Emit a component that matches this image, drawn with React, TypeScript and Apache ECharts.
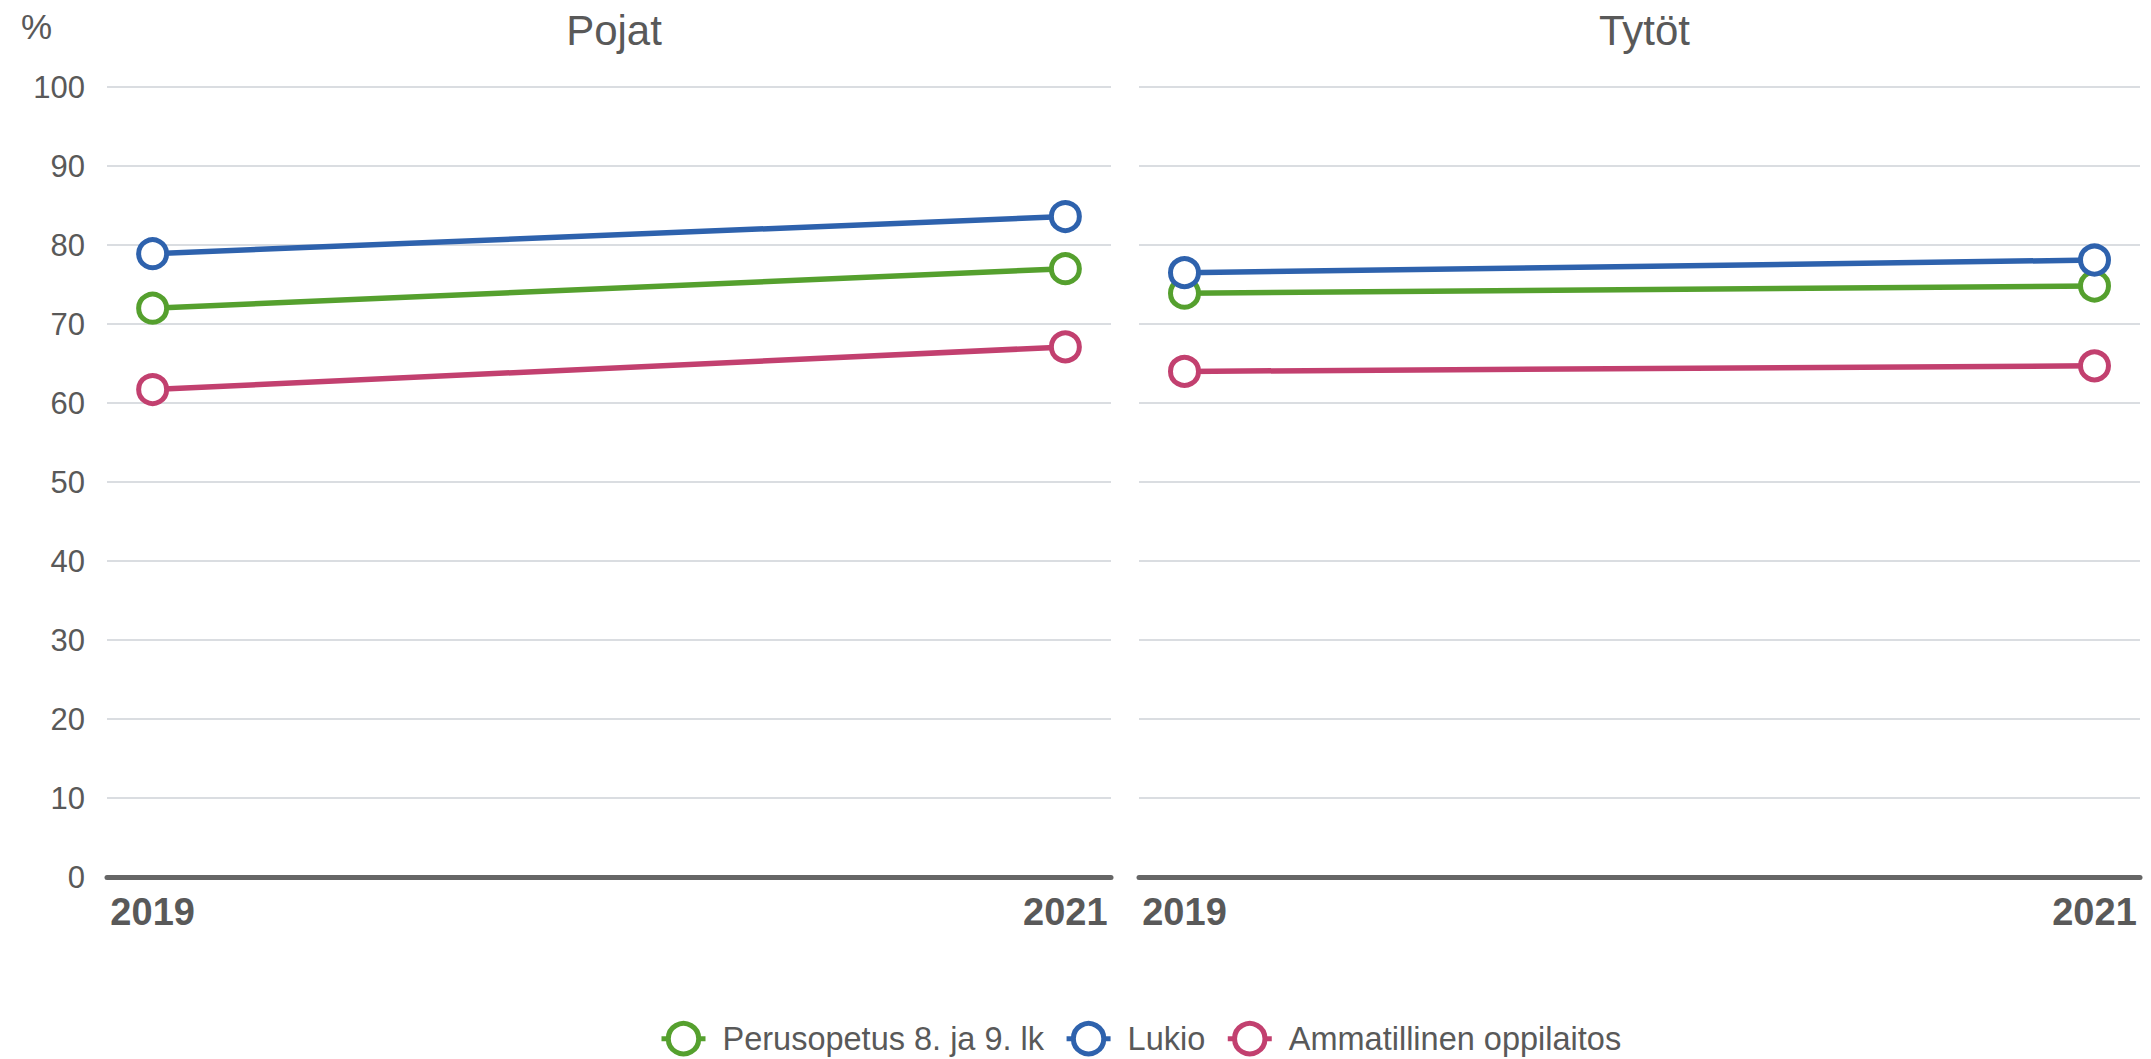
import React, { useEffect, useRef } from "react";
import * as echarts from "echarts";

const years = [2019, 2021];
const seriesNames = ["Perusopetus 8. ja 9. lk", "Lukio", "Ammatillinen oppilaitos"];
const seriesColors = ["#55a02e", "#2e62ad", "#c2406f"];
const panelTitles = ["Pojat", "Tytöt"];
// Pojat
const pojatPerusopetus = [72.0, 77.0];
const pojatLukio = [78.9, 83.6];
const pojatAmmatillinen = [61.7, 67.1];
// Tytöt
const tytotPerusopetus = [73.9, 74.8];
const tytotLukio = [76.5, 78.1];
const tytotAmmatillinen = [64.0, 64.7];
const yTicks = [0, 10, 20, 30, 40, 50, 60, 70, 80, 90, 100];

const FONT = "'Liberation Sans', Arial, sans-serif";
const TEXT = "#595959";

export default function App() {
  const ref = useRef<HTMLDivElement>(null);
  useEffect(() => {
    document.body.style.margin = "0";
    const chart = echarts.init(ref.current!, null, { renderer: "svg" });
    const panels = [
      [pojatPerusopetus, pojatLukio, pojatAmmatillinen],
      [tytotPerusopetus, tytotLukio, tytotAmmatillinen],
    ];
    const grids = [
      { left: 107, top: 87, width: 1004, height: 790 },
      { left: 1139, top: 87, width: 1001, height: 790 },
    ];
    const xAxes = grids.map((_, i) => ({
      type: "value",
      gridIndex: i,
      min: 2018.9,
      max: 2021.1,
      splitLine: { show: false },
      axisTick: { show: false },
      axisLine: { show: true, onZero: false, lineStyle: { color: "#666666", width: 5 } },
      axisLabel: {
        customValues: years,
        formatter: (v: number) => String(v),
        fontFamily: FONT,
        fontSize: 38,
        fontWeight: "bold",
        color: TEXT,
        margin: 16,
      },
    }));
    const yAxes = grids.map((_, i) => ({
      type: "value",
      gridIndex: i,
      min: yTicks[0],
      max: yTicks[yTicks.length - 1],
      interval: 10,
      axisLine: { show: false },
      axisTick: { show: false },
      splitLine: { show: true, lineStyle: { color: "#dadde1", width: 2 } },
      axisLabel: {
        show: i === 0,
        fontFamily: FONT,
        fontSize: 31,
        color: TEXT,
        margin: 22,
      },
    }));
    const series: any[] = [];
    panels.forEach((panel, gi) => {
      panel.forEach((vals, si) => {
        series.push({
          type: "line",
          name: seriesNames[si],
          xAxisIndex: gi,
          yAxisIndex: gi,
          data: years.map((y, k) => [y, vals[k]]),
          symbol: "circle",
          symbolSize: 28,
          showSymbol: true,
          lineStyle: { color: seriesColors[si], width: 5.5 },
          itemStyle: { color: "#ffffff", borderColor: seriesColors[si], borderWidth: 5 },
          z: 3,
        });
      });
    });
    chart.setOption({
      animation: false,
      backgroundColor: "#ffffff",
      grid: grids,
      xAxis: xAxes,
      yAxis: yAxes,
      title: [
        ...panelTitles.map((t, i) => ({
          text: t,
          left: grids[i].left + grids[i].width / 2,
          top: 4,
          textAlign: "center",
          textStyle: { fontFamily: FONT, fontSize: 42, fontWeight: "normal", color: TEXT },
        })),
        {
          text: "%",
          left: 16,
          top: 4,
          textStyle: { fontFamily: FONT, fontSize: 35, fontWeight: "normal", color: TEXT },
        },
      ],
      legend: {
        data: seriesNames.map((n, i) => ({
          name: n,
          itemStyle: { color: "#ffffff", borderColor: seriesColors[i], borderWidth: 5 },
          lineStyle: { color: seriesColors[i], width: 5 },
        })),
        left: 654,
        top: 1016,
        itemWidth: 44,
        itemHeight: 38,
        itemGap: 20,
        textStyle: { fontFamily: FONT, fontSize: 32.5, color: TEXT, padding: [0, 0, 0, 12] },
      },
      series,
    });
    return () => chart.dispose();
  }, []);
  return <div ref={ref} style={{ width: 2151, height: 1059 }} />;
}
